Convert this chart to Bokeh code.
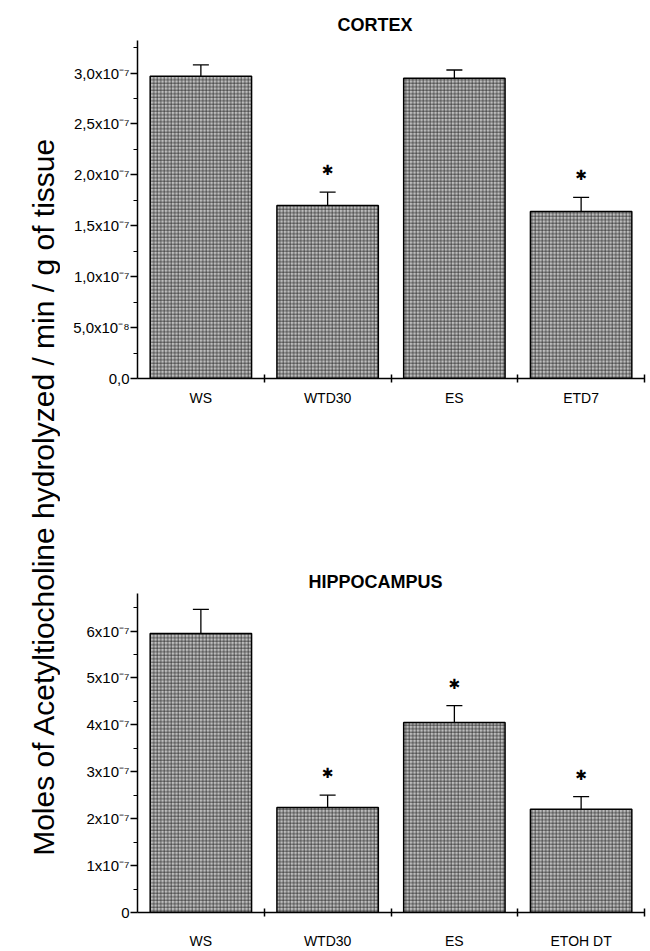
import math
from bokeh.plotting import figure
from bokeh.layouts import row, column
from bokeh.models import ColumnDataSource, Whisker, TeeHead, FixedTicker, Range1d
from bokeh.core.properties import value
from bokeh.embed import file_html
from bokeh.resources import INLINE

# ---- data (values in units of 1e-7 mol / min / g) ----
cortex_categories = ["WS", "WTD30", "ES", "ETD7"]
cortex_mean = [2.97, 1.70, 2.95, 1.64]
cortex_err = [0.11, 0.13, 0.08, 0.14]
cortex_sig = [False, True, False, True]
cortex_ticks = [0, 0.5, 1.0, 1.5, 2.0, 2.5, 3.0]
cortex_tick_labels = ["0,0", "5,0x10⁻⁸", "1,0x10⁻⁷", "1,5x10⁻⁷", "2,0x10⁻⁷", "2,5x10⁻⁷", "3,0x10⁻⁷"]

hippo_categories = ["WS", "WTD30", "ES", "ETOH DT"]
hippo_mean = [5.95, 2.24, 4.05, 2.20]
hippo_err = [0.51, 0.26, 0.36, 0.27]
hippo_sig = [False, True, True, True]
hippo_ticks = [0, 1, 2, 3, 4, 5, 6]
hippo_tick_labels = ["0", "1x10⁻⁷", "2x10⁻⁷", "3x10⁻⁷", "4x10⁻⁷", "5x10⁻⁷", "6x10⁻⁷"]

y_label = "Moles of Acetyltiocholine hydrolyzed / min / g of tissue"


def make_panel(title, cats, mean, err, sig, ticks, tick_labels, ymax, height,
               b_top, b_bottom, b_left, b_right, x_standoff, title_offset, title_standoff):
    n = len(cats)
    xs = [i + 0.5 for i in range(n)]
    p = figure(width=590, height=height, x_range=Range1d(0, n), y_range=Range1d(0, ymax),
               output_backend="svg", toolbar_location=None,
               min_border_top=b_top, min_border_bottom=b_bottom,
               min_border_left=b_left, min_border_right=b_right)
    p.outline_line_color = None
    p.grid.visible = False
    p.background_fill_color = "white"
    p.border_fill_color = "white"

    src = ColumnDataSource(dict(x=xs, top=mean, upper=[m + e for m, e in zip(mean, err)]))
    p.vbar(x="x", top="top", bottom=0, width=0.8, source=src,
           fill_color="#bdbdbd", line_color="black", line_width=1.5,
           hatch_pattern="+", hatch_color="#262626", hatch_scale=3.5,
           hatch_weight=0.8, hatch_alpha=0.85)
    p.add_layout(Whisker(source=src, base="x", lower="top", upper="upper",
                         lower_head=None,
                         upper_head=TeeHead(size=16, line_width=1.3, line_color="black"),
                         line_width=1.3, line_color="black"))
    sx = [x for x, s in zip(xs, sig) if s]
    sy = [m + e for m, e, s in zip(mean, err, sig) if s]
    ssrc = ColumnDataSource(dict(x=sx, y=sy, t=["✱"] * len(sx)))
    p.text(x="x", y="y", text="t", source=ssrc, y_offset=-22,
           text_align="center", text_baseline="middle",
           text_font=value("DejaVu Sans"), text_font_size="14px", text_color="black")

    # y axis
    ya = p.yaxis[0]
    minor = [t + (ticks[1] - ticks[0]) / 2 for t in ticks]
    ya.ticker = FixedTicker(ticks=ticks, minor_ticks=[m for m in minor if m < ymax])
    ya.major_label_overrides = {t: l for t, l in zip(ticks, tick_labels)}
    ya.axis_line_width = 1.5
    ya.major_tick_line_width = 1.5
    ya.minor_tick_line_width = 1.2
    ya.major_tick_out = 7
    ya.major_tick_in = 0
    ya.minor_tick_out = 4
    ya.minor_tick_in = 0
    ya.major_label_standoff = 1
    ya.major_label_text_font = "Liberation Sans"
    ya.major_label_text_font_size = "15px"
    ya.major_label_text_color = "black"

    # x axis: labels at bar centres, tick marks at category boundaries
    xa = p.xaxis[0]
    xa.ticker = FixedTicker(ticks=xs, minor_ticks=[float(i) for i in range(1, n + 1)])
    xa.major_label_overrides = {x: c for x, c in zip(xs, cats)}
    xa.axis_line_width = 1.5
    xa.major_tick_out = 0
    xa.major_tick_in = 0
    xa.minor_tick_out = 4
    xa.minor_tick_in = 4
    xa.minor_tick_line_width = 1.5
    xa.major_label_standoff = x_standoff
    xa.major_label_text_font = "Liberation Sans"
    xa.major_label_text_font_size = "14px"
    xa.major_label_text_color = "black"

    p.title.text = title
    p.title.align = "left"
    p.title.offset = title_offset
    p.title.standoff = title_standoff
    p.title.text_font = "Liberation Sans"
    p.title.text_font_style = "bold"
    p.title.text_font_size = "18px"
    p.title.text_color = "black"
    return p


top = make_panel("CORTEX", cortex_categories, cortex_mean, cortex_err, cortex_sig,
                 cortex_ticks, cortex_tick_labels, 3.32, 460,
                 40, 82, 74, 6, 7, 200, 12)
bottom = make_panel("HIPPOCAMPUS", hippo_categories, hippo_mean, hippo_err, hippo_sig,
                    hippo_ticks, hippo_tick_labels, 6.8, 491,
                    133, 33, 77, 3, 16, 171, 4)

lab = figure(width=60, height=951, x_range=Range1d(0, 60), y_range=Range1d(0, 951),
             output_backend="svg", toolbar_location=None, min_border=0)
lab.axis.visible = False
lab.grid.visible = False
lab.outline_line_color = None
lab.text(x=[43], y=[455], text=[y_label], angle=math.pi / 2,
         text_align="center", text_baseline="alphabetic",
         text_font=value("Liberation Sans"), text_font_size="30px", text_color="black")

layout = row(lab, column(top, bottom))
open("out.html", "w").write(file_html(layout, INLINE))
